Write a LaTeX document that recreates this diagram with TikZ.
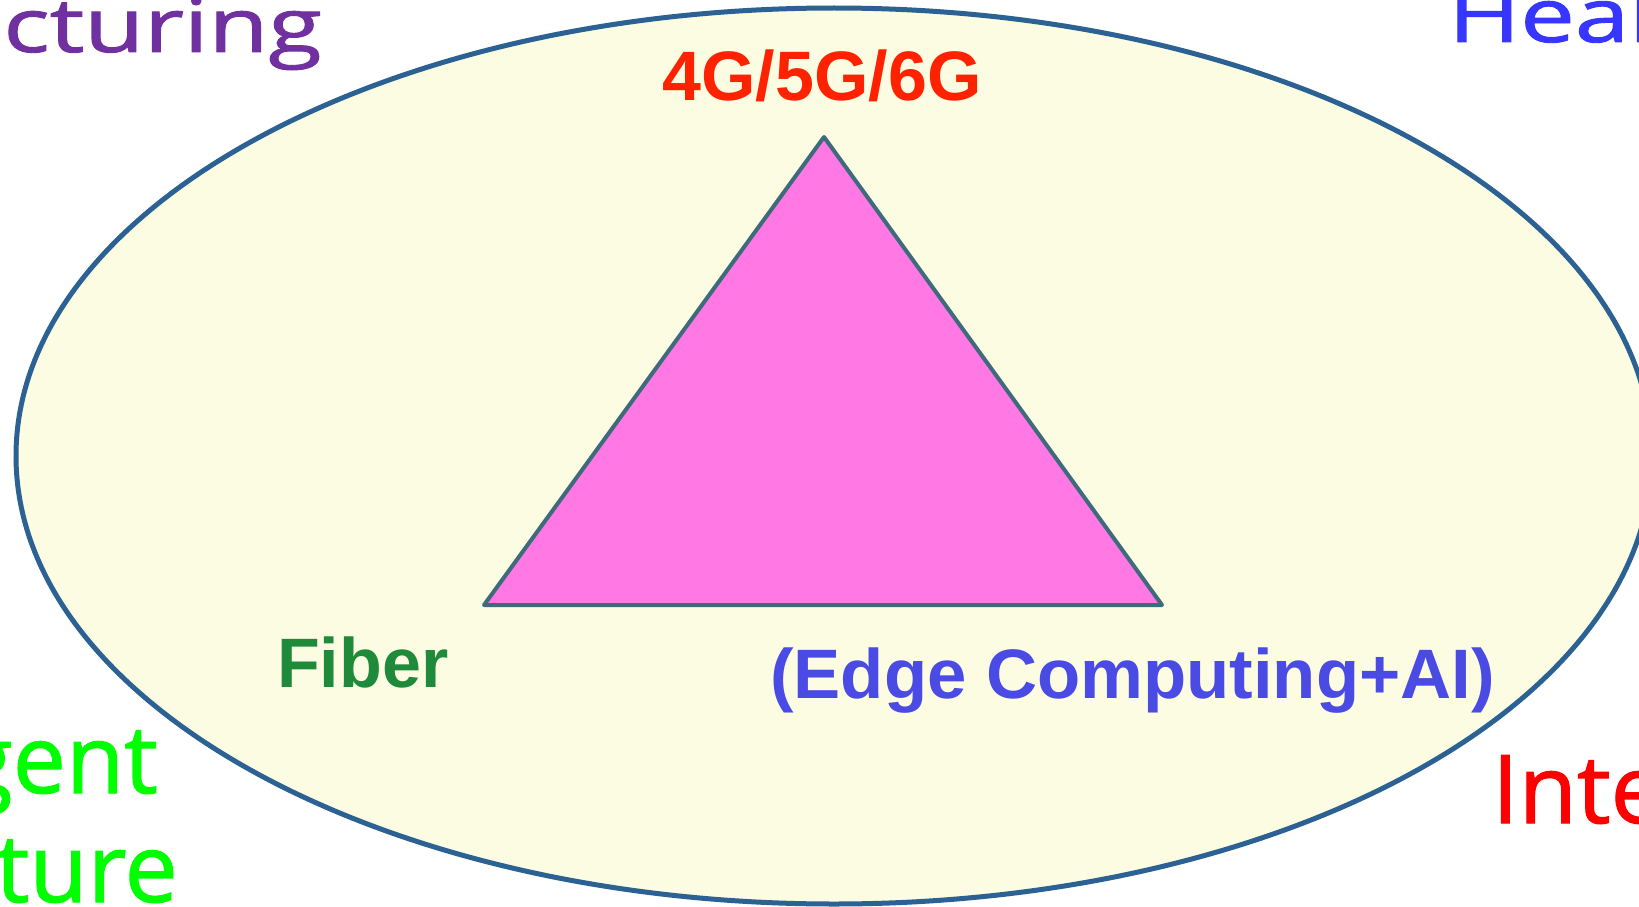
\documentclass[tikz,border=0pt]{standalone}
\usepackage{fontspec}
\usetikzlibrary{shapes.geometric}
\newfontfamily\osans{Open Sans}[FakeBold=1.2]
\newfontfamily\arialf{Liberation Sans}
\definecolor{ovalline}{HTML}{2C6293}
\definecolor{ovalfill}{HTML}{FCFCE3}
\definecolor{trifill}{HTML}{FF78E4}
\definecolor{triline}{HTML}{3D6B7B}
\definecolor{cfour}{HTML}{FF2200}
\definecolor{cfiber}{HTML}{1F8A3A}
\definecolor{cedge}{HTML}{4A4AE4}
\definecolor{cpurple}{HTML}{7030A0}
\definecolor{cblue}{HTML}{3636FF}
\definecolor{cgreen}{HTML}{00FF00}
\definecolor{cred}{HTML}{FF0000}
\begin{document}
\begin{tikzpicture}[x=1pt,y=-1pt,
  bigtxt/.style={inner sep=0pt,font=\osans\fontsize{95}{110}\selectfont},
  toptxt/.style={inner sep=0pt,font=\osans\fontsize{75}{90}\selectfont,xscale=1.3},
  lbl/.style={inner sep=0pt,font=\arialf\bfseries\fontsize{70}{80}\selectfont},
  oval/.style={ellipse,draw=ovalline,fill=ovalfill,line width=5pt,inner sep=0pt,outer sep=0pt},
  tri/.style={draw=triline,fill=trifill,line width=4pt,line join=round}]
\useasboundingbox (0,0) rectangle (1639,907);
\clip (0,0) rectangle (1639,907);
\fill[white] (0,0) rectangle (1639,907);
\node[oval,minimum width=1636pt,minimum height=896pt] (ov) at (834,456) {};
\coordinate (apex) at (824,137);
\coordinate (bl) at (484,605);
\coordinate (br) at (1162,605);
\draw[tri] (apex) -- (bl) -- (br) -- cycle;
\node[lbl,text=cfour,anchor=base] (gen) at (822,100) {4G/5G/6G};
\node[lbl,text=cfiber,anchor=base west] (fiber) at (277,687) {Fiber};
\node[lbl,text=cedge,anchor=base west,xscale=1.01] (edge) at (770,698) {(Edge Computing+AI)};
\node[toptxt,text=cpurple,anchor=base east] (manu) at (322,52) {Manufacturing};
\node[toptxt,text=cblue,anchor=base west] (health) at (1448,42) {Healthcare};
\node[bigtxt,text=cgreen,anchor=base east] (agria) at (158,793) {Intelligent};
\node[bigtxt,text=cgreen,anchor=base east] (agrib) at (178,902) {Agriculture};
\node[bigtxt,text=cred,anchor=base west] (intel) at (1492,823) {Intelligent};
\node[bigtxt,text=cred,anchor=north west] (paren) at (1634,884) {(};
\end{tikzpicture}
\end{document}
